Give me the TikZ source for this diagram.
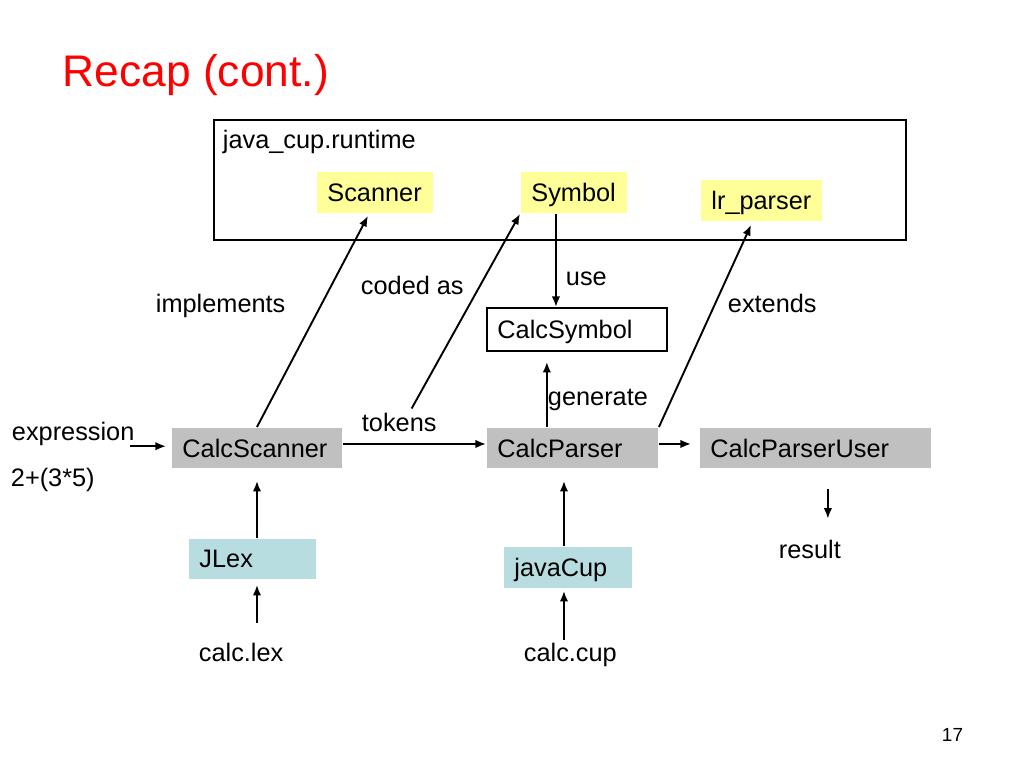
\documentclass[tikz,border=0pt]{standalone}
\usepackage{fontspec}
\setmainfont{Liberation Sans}
\usetikzlibrary{arrows.meta}
\definecolor{boxgrey}{RGB}{192,192,192}
\definecolor{boxyellow}{RGB}{255,255,153}
\definecolor{boxcyan}{RGB}{183,221,224}
\tikzset{
  cls/.style={anchor=north west, inner sep=0pt, align=left, text depth=0pt},
  lbl/.style={anchor=base west, inner sep=0pt}
}
\begin{document}
\begin{tikzpicture}[x=.025cm, y=-.025cm, line width=1.35pt, font=\fontsize{18}{22}\selectfont, >={Latex[length=7.5pt,width=6pt]}]
\useasboundingbox (0,0) rectangle (1024,768);
\node[lbl, text=red, font=\fontsize{31.5}{38}\selectfont] (title) at (62,87) {Recap (cont.)};
\node[draw, anchor=north west, minimum width=17.3cm, minimum height=3cm, inner sep=0pt] (runtime) at (213,119) {};
\node[lbl] (runtimelbl) at (222,149) {java\_cup.runtime};
\node[cls, fill=boxyellow, minimum width=2.9cm, minimum height=1.025cm, text width=2.375cm] (scanner) at (316,171) {Scanner};
\node[cls, fill=boxyellow, minimum width=2.65cm, minimum height=1.025cm, text width=2.125cm] (symbol) at (520,171) {Symbol};
\node[cls, fill=boxyellow, minimum width=3.025cm, minimum height=1.025cm, text width=2.5cm] (lrparser) at (700,179) {lr\_parser};
\node[cls, draw, minimum width=4.5cm, minimum height=1.075cm, text width=3.975cm] (calcsymbol) at (486,307) {CalcSymbol};
\node[cls, fill=boxgrey, minimum width=4.25cm, minimum height=1cm, text width=3.725cm] (calcscanner) at (171,427) {CalcScanner};
\node[cls, fill=boxgrey, minimum width=4.275cm, minimum height=1cm, text width=3.75cm] (calcparser) at (486,427) {CalcParser};
\node[cls, fill=boxgrey, minimum width=5.775cm, minimum height=1cm, text width=5.25cm] (user) at (699,427) {CalcParserUser};
\node[cls, fill=boxcyan, minimum width=3.175cm, minimum height=1cm, text width=2.65cm] (jlex) at (188,538) {JLex};
\node[cls, fill=boxcyan, minimum width=3.2cm, minimum height=1.025cm, text width=2.675cm] (javacup) at (503,546) {javaCup};
\node[lbl] (implements) at (155,312) {implements};
\node[lbl] (codedas) at (360,294) {coded as};
\node[lbl] (use) at (565,285) {use};
\node[lbl] (extends) at (727,312) {extends};
\node[lbl] (generate) at (547,405) {generate};
\node[lbl] (tokens) at (361,431) {tokens};
\node[lbl] (expr) at (11,440) {expression};
\node[lbl] (input) at (10,486) {2+(3*5)};
\node[lbl] (result) at (778,558) {result};
\node[lbl] (calclex) at (198,661) {calc.lex};
\node[lbl] (calccup) at (523,661) {calc.cup};
\node[lbl, font=\fontsize{13.5}{16}\selectfont] (page) at (941,741) {17};
\coordinate (usex) at ([xshift=-.45cm]symbol.south);
\coordinate (genx) at ([xshift=-.64cm]calcparser.north);
\coordinate (resx) at ([xshift=.31cm]user.south);
\coordinate (cupx) at ([xshift=-.1cm]javacup.south);
\draw[->] ([xshift=-.125cm]expr.south east) -- ([xshift=-.125cm]expr.south east -| calcscanner.west);
\draw[->] ([yshift=.1cm]calcscanner.east) -- ([yshift=.1cm]calcparser.west);
\draw[->, shorten >=.2cm] ([yshift=.1cm]calcparser.east) -- ([yshift=.1cm]user.west);
\draw[->] (calcscanner.north) -- ([xshift=-.175cm,yshift=-.05cm]scanner.south);
\draw[->] ([xshift=.31cm,yshift=.08cm]tokens.north) -- (symbol.south west);
\draw[->] (usex) -- (usex |- calcsymbol.north);
\draw[->, shorten >=.25cm] (genx) -- (genx |- calcsymbol.south);
\draw[->] (calcparser.north east) -- ([xshift=-.26cm,yshift=-.075cm]lrparser.south);
\draw[->, shorten <=.5cm, shorten >=.5cm] (resx) -- (resx |- result.north);
\draw[->, shorten >=.3cm] (jlex.north -| calcscanner.south) -- (calcscanner.south);
\draw[->, shorten <=.475cm, shorten >=.125cm] (calclex.north -| calcscanner.south) -- (jlex.south -| calcscanner.south);
\draw[->, shorten >=.3cm] ([xshift=-.1cm]javacup.north) -- ([xshift=-.1cm]javacup.north |- calcparser.south);
\draw[->, shorten <=.05cm, shorten >=.05cm] (cupx |- calccup.north) -- (cupx);
\end{tikzpicture}
\end{document}
